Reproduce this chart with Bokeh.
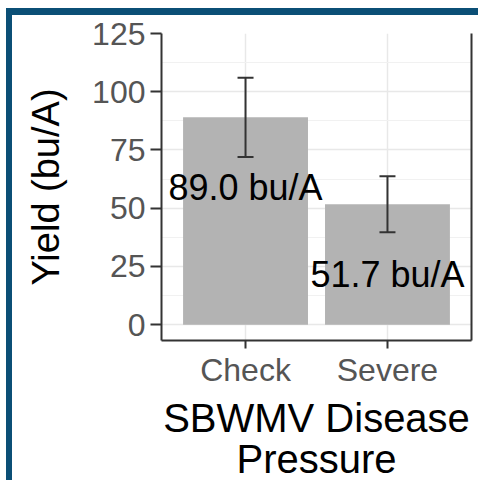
from bokeh.plotting import figure
from bokeh.models import (FactorRange, Range1d, ColumnDataSource, Whisker, TeeHead,
                          LinearAxis, FixedTicker)
from bokeh.embed import file_html
from bokeh.resources import INLINE
from bokeh.core.properties import value

# ---- data ----
categories = ["Check", "Severe"]
means = [89.0, 51.7]
lower = [72.0, 39.7]
upper = [106.0, 63.7]
labels = ["89.0 bu/A", "51.7 bu/A"]
y_ticks = [0, 25, 50, 75, 100, 125]
y_minor = [12.5, 37.5, 62.5, 87.5, 112.5]
label_offset = 30.0

FONT = "Liberation Sans"
BLUE = "#0b4f76"
DARK = "#333333"

src = ColumnDataSource(dict(
    cat=categories, mean=means, lower=lower, upper=upper, label=labels,
    label_y=[m - label_offset for m in means],
))

p = figure(
    x_range=FactorRange(*categories, range_padding=0.092, range_padding_units="absolute"),
    y_range=Range1d(-6.8, 125),
    width=472, height=472,
    output_backend="svg", toolbar_location=None,
    min_border_left=149, min_border_right=13, min_border_top=18, min_border_bottom=147,
)
p.styles = {"margin-left": "6px", "margin-top": "8px",
            "border-top": f"7px solid {BLUE}", "border-left": f"6px solid {BLUE}"}
p.background_fill_color = "white"
p.border_fill_color = "white"
p.outline_line_color = None

p.vbar(x="cat", top="mean", bottom=0, width=0.88, source=src,
       fill_color="#b3b3b3", line_color=None)

w = Whisker(base="cat", lower="lower", upper="upper", source=src, level="overlay",
            line_color=DARK, line_width=2,
            upper_head=TeeHead(size=16, line_color=DARK, line_width=2),
            lower_head=TeeHead(size=16, line_color=DARK, line_width=2))
p.add_layout(w)

p.text(x="cat", y="label_y", text="label", source=src,
       text_font=value(FONT), text_font_size="36px", text_color="black",
       text_align="center", text_baseline="middle")

# grids
p.xgrid.grid_line_color = "#e8e8e8"
p.xgrid.grid_line_width = 1.5
p.ygrid.ticker = FixedTicker(ticks=y_ticks, minor_ticks=y_minor)
p.ygrid.grid_line_color = "#e8e8e8"
p.ygrid.grid_line_width = 1.5
p.ygrid.minor_grid_line_color = "#f1f1f1"
p.ygrid.minor_grid_line_width = 1

# axes
p.yaxis.ticker = FixedTicker(ticks=y_ticks)
for ax in (p.xaxis[0], p.yaxis[0]):
    ax.axis_line_color = DARK
    ax.axis_line_width = 2
    ax.major_tick_line_color = DARK
    ax.major_tick_line_width = 2
    ax.major_tick_in = 0
    ax.minor_tick_line_color = None
    ax.major_label_text_font = FONT
    ax.major_label_text_font_size = "32px"
    ax.major_label_text_color = "#555555"
    ax.axis_label_text_font = FONT
    ax.axis_label_text_font_style = "normal"
    ax.axis_label_text_color = "black"

p.yaxis.major_tick_out = 11
p.yaxis.major_label_standoff = 5
p.yaxis.axis_label = "Yield (bu/A)"
p.yaxis.axis_label_text_font_size = "38px"
p.yaxis.axis_label_standoff = 22

p.xaxis.major_tick_out = 8
p.xaxis.major_label_standoff = 3
p.xaxis.axis_label = "SBWMV Disease\nPressure"
p.xaxis.axis_label_text_font_size = "40px"
p.xaxis.axis_label_text_line_height = 0.95
p.xaxis.axis_label_standoff = 5

right = LinearAxis(ticker=FixedTicker(ticks=[]), axis_line_color=DARK, axis_line_width=2,
                   major_tick_line_color=None, minor_tick_line_color=None,
                   major_label_text_font_size="0px", major_label_standoff=0)
p.add_layout(right, "right")

open("out.html", "w").write(file_html(p, INLINE))
